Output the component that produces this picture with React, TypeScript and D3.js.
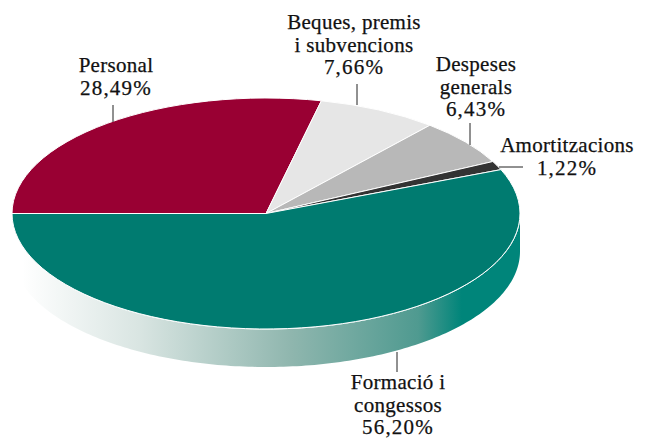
import React from "react";
import * as d3 from "d3";

const categories = ["Personal", "Beques, premis i subvencions", "Despeses generals", "Amortitzacions", "Formació i congessos"];
const values = [28.49, 7.66, 6.43, 1.22, 56.2];
const colors = ["#990033", "#e6e6e6", "#b8b8b8", "#333333", "#007b70"];
const labelLines = [["Personal", "28,49%"], ["Beques, premis", "i subvencions", "7,66%"], ["Despeses", "generals", "6,43%"], ["Amortitzacions", "1,22%"], ["Formació i", "congessos", "56,20%"]];
const labelPos = [[116, 72], [354, 29], [476, 71], [567, 152], [398, 389]];
const leaders = [[113, 105, 113, 122], [357, 84, 357, 105], [470, 123, 470, 145], [499, 167, 523, 167], [397, 352, 397, 372]];

const W = 648, H = 438, cx = 266, cy = 213.5, rx = 254, ry = 115.5, depth = 38;
const LH = 22.5;

export default function App() {
  const pie = d3.pie<number>().sort(null).startAngle(-Math.PI / 2).endAngle(1.5 * Math.PI);
  const arcs = pie(values);
  const arc = d3.arc<d3.PieArcDatum<number>>().innerRadius(0).outerRadius(1);
  const wallPts = d3.range(0, 181).map((i) => {
    const t = (i * Math.PI) / 180;
    return [cx + rx * Math.cos(t), cy + ry * Math.sin(t)] as [number, number];
  });
  const line = d3.line();
  const bottom = wallPts.map(([x, y]) => [x, y + depth] as [number, number]).reverse();
  const wall = line(wallPts)! + "L" + line(bottom)!.slice(1) + "Z";
  return (
    <svg width={W} height={H} style={{ position: "absolute", left: 0, top: 0, background: "#fff" }}>
      <defs>
        <linearGradient id="w" gradientUnits="userSpaceOnUse" x1={12} x2={520} y1={0} y2={0}>
          <stop offset="0.02" stopColor="#ffffff" />
          <stop offset="0.25" stopColor="#d9e5e2" />
          <stop offset="0.55" stopColor="#8fb6ae" />
          <stop offset="0.8" stopColor="#4f9a90" />
          <stop offset="0.885" stopColor="#00857a" />
          <stop offset="1" stopColor="#00857a" />
        </linearGradient>
      </defs>
      <path d={wall} fill="url(#w)" />
      <path d={line(wallPts)!} fill="none" stroke="#fff" strokeWidth={1} />
      <g transform={`translate(${cx},${cy}) scale(${rx},${ry})`}>
        {arcs.map((a, i) => (
          <path key={categories[i]} d={arc(a)!} fill={colors[i]} stroke="#fff" strokeWidth={1} vectorEffect="non-scaling-stroke" />
        ))}
      </g>
      {leaders.map((l, i) => (
        <line key={i} x1={l[0]} y1={l[1]} x2={l[2]} y2={l[3]} stroke="#222" strokeWidth={1} />
      ))}
      <g fontFamily="'Liberation Serif'" fontSize={21} stroke="#111" strokeWidth={0.25} fill="#111" textAnchor="middle">
        {labelLines.map((ls, i) => (
          <text key={i} x={labelPos[i][0]} y={labelPos[i][1]}>
            {ls.map((s, j) => (
              <tspan key={j} x={labelPos[i][0]} dy={j ? LH : 0} letterSpacing={j === ls.length - 1 && j > 0 ? 1.2 : 0.3}>{s}</tspan>
            ))}
          </text>
        ))}
      </g>
    </svg>
  );
}
